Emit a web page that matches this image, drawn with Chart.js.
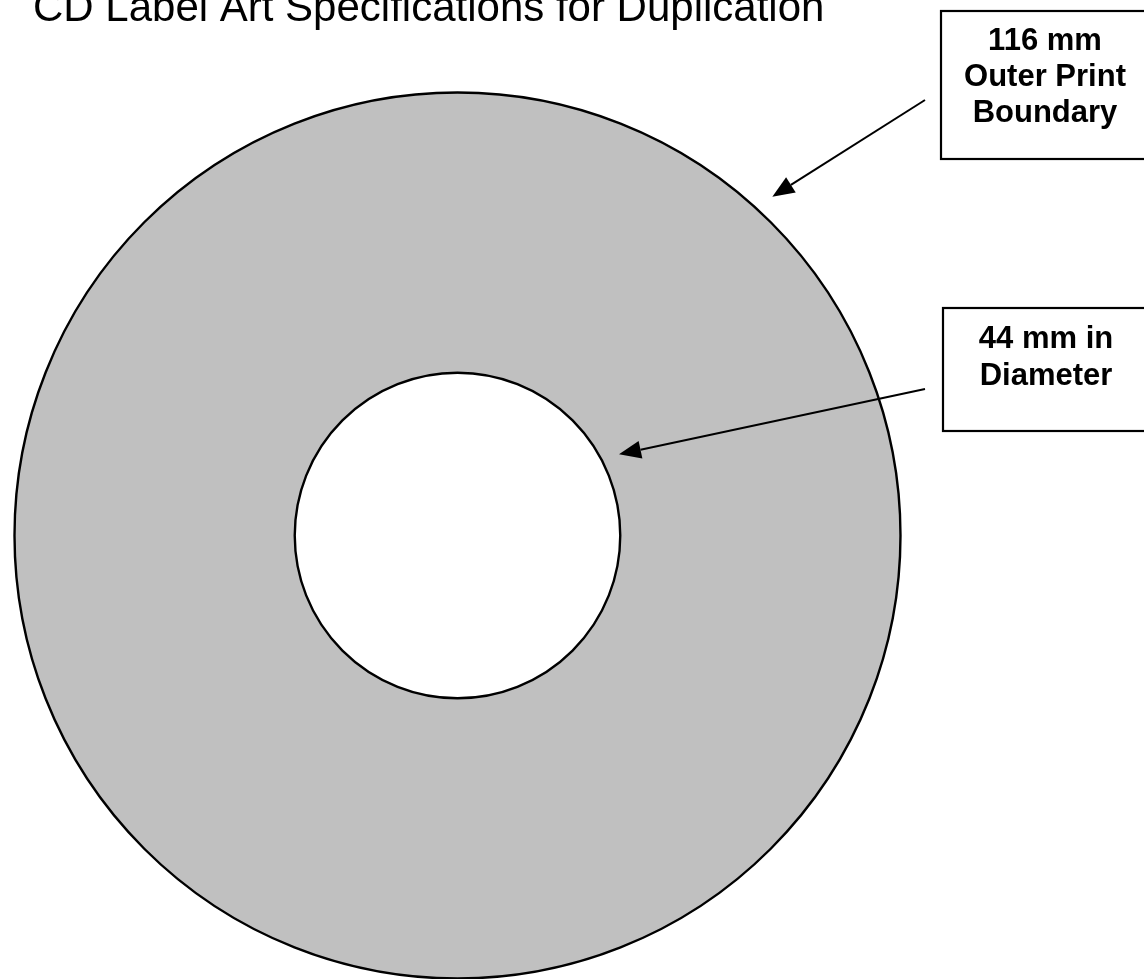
<!DOCTYPE html>
<html>
<head>
<meta charset="utf-8">
<script src="https://cdn.jsdelivr.net/npm/chart.js@4"></script>
<style>
html, body { margin:0; padding:0; background:#fff; overflow:hidden; }
#wrap { width:1144px; height:979px; position:relative; }
</style>
</head>
<body>
<div id="wrap"><canvas id="myChart"></canvas></div>
<script>
// data for the label drawing
var categories = ['Printable area'];
var values = [1];
var diametersMm = [116, 44];
var titleText = 'CD Label Art Specifications for Duplication';
var outerLabel = [diametersMm[0] + ' mm', 'Outer Print', 'Boundary'];
var innerLabel = [diametersMm[1] + ' mm in', 'Diameter'];

function drawArrow(ctx, x1, y1, x2, y2) {
    var ang = Math.atan2(y2 - y1, x2 - x1);
    var len = 22, half = 9;
    var bx = x2 - Math.cos(ang) * len;
    var by = y2 - Math.sin(ang) * len;
    ctx.beginPath();
    ctx.moveTo(x1, y1);
    ctx.lineTo(bx, by);
    ctx.stroke();
    ctx.beginPath();
    ctx.moveTo(x2, y2);
    ctx.lineTo(bx + Math.sin(ang) * half, by - Math.cos(ang) * half);
    ctx.lineTo(bx - Math.sin(ang) * half, by + Math.cos(ang) * half);
    ctx.closePath();
    ctx.fill();
}

var cdNotes = {
    id: 'cdNotes',
    afterDraw: function(chart) {
        var ctx = chart.ctx;
        var arc = chart.getDatasetMeta(0).data[0];
        ctx.save();
        ctx.strokeStyle = '#000';
        ctx.fillStyle = '#000';
        // rim lines of the disc
        ctx.lineWidth = 2.4;
        ctx.beginPath();
        ctx.arc(arc.x, arc.y, arc.outerRadius - 0.5, 0, Math.PI * 2);
        ctx.stroke();
        ctx.beginPath();
        ctx.arc(arc.x, arc.y, arc.innerRadius, 0, Math.PI * 2);
        ctx.stroke();

        // title
        ctx.font = '42px "Liberation Sans", Arial, sans-serif';
        ctx.textAlign = 'left';
        ctx.textBaseline = 'alphabetic';
        ctx.fillText(titleText, 33, 21);

        // boxes
        ctx.lineWidth = 2.2;
        ctx.strokeRect(941, 11, 220, 148);
        ctx.strokeRect(943, 308, 220, 123);
        ctx.font = 'bold 31px "Liberation Sans", Arial, sans-serif';
        ctx.textAlign = 'center';
        outerLabel.forEach(function(t, i) { ctx.fillText(t, 1045, 50 + i * 36); });
        innerLabel.forEach(function(t, i) { ctx.fillText(t, 1046, 348 + i * 37); });

        // arrows, tips just outside the rims
        ctx.lineWidth = 2;
        var a1 = -47.1 * Math.PI / 180, r1 = arc.outerRadius + 19;
        drawArrow(ctx, 925, 100, arc.x + Math.cos(a1) * r1, arc.y + Math.sin(a1) * r1);
        var a2 = -26.7 * Math.PI / 180, r2 = arc.innerRadius + 18;
        drawArrow(ctx, 925, 389, arc.x + Math.cos(a2) * r2, arc.y + Math.sin(a2) * r2);
        ctx.restore();
    }
};

const ctx = document.getElementById('myChart');
var myChart = new Chart(ctx, {
    type: 'doughnut',
    data: {
        labels: categories,
        datasets: [{
            data: values,
            backgroundColor: '#c0c0c0',
            hoverBackgroundColor: '#c0c0c0',
            borderWidth: 0,
            hoverBorderWidth: 0
        }]
    },
    options: {
        responsive: true,
        maintainAspectRatio: false,
        animation: false,
        events: [],
        cutout: '36.7%',
        layout: { padding: { left: 0, right: 229, top: 92, bottom: 0 } },
        plugins: {
            legend: { display: false },
            tooltip: { enabled: false }
        }
    },
    plugins: [cdNotes]
});
</script>
</body>
</html>
